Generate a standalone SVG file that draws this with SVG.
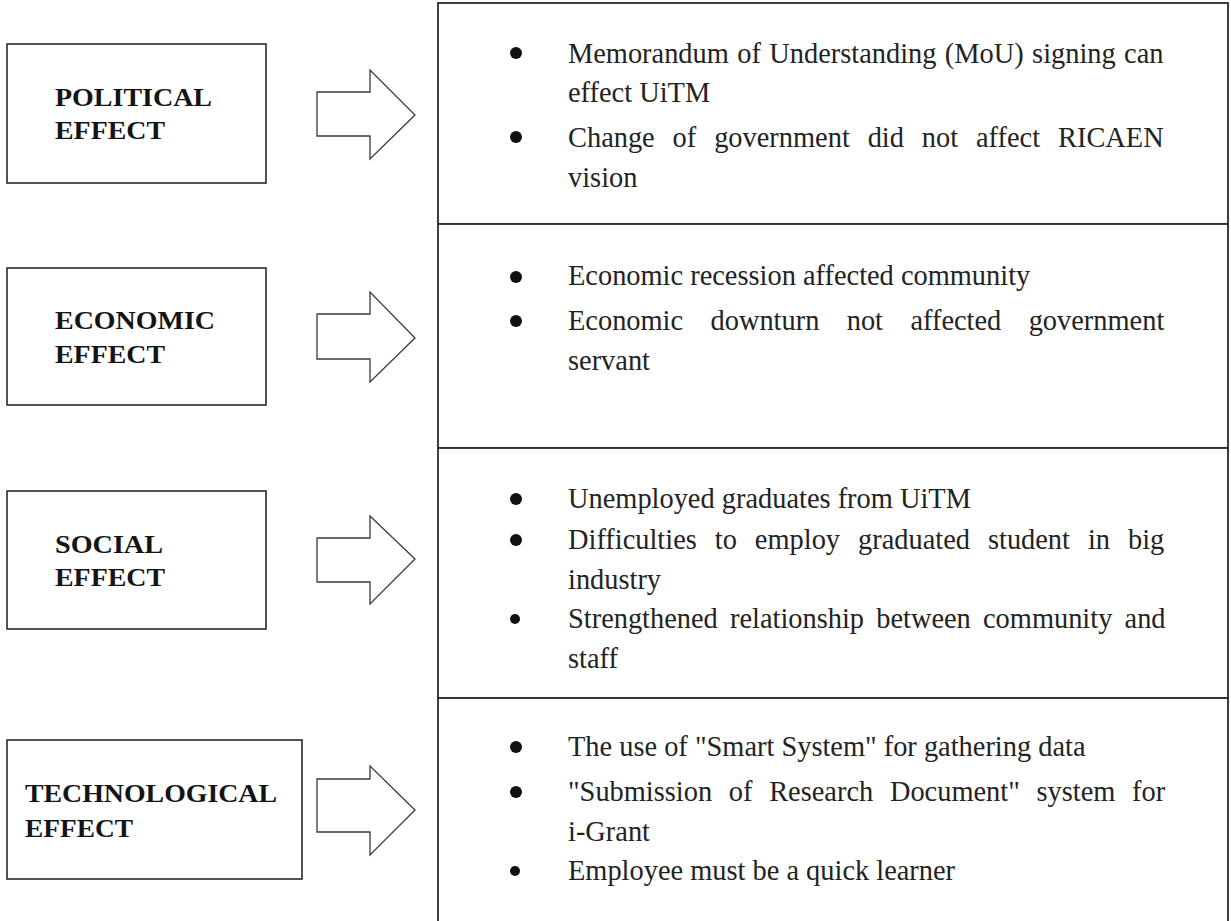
<svg xmlns="http://www.w3.org/2000/svg" width="1231" height="921" viewBox="0 0 1231 921">
  <style>
    .box { fill: #ffffff; stroke: #2a2a2a; stroke-width: 1.6; }
    .sec { fill: #ffffff; stroke: #2a2a2a; stroke-width: 1.8; }
    .title { font-family: "Liberation Serif", "Times New Roman", serif; font-weight: bold; font-size: 25px; fill: #141414; }
    .item { font-family: "Liberation Serif", "Times New Roman", serif; font-size: 28.4px; fill: #232323; }
    .bul { fill: #111111; }
    .arrow { fill: #ffffff; stroke: #3a3a3a; stroke-width: 1.3; stroke-linejoin: miter; }
  </style>
  <rect width="1231" height="921" fill="#ffffff"/>

  <!-- Left nodes -->
  <g id="political">
    <rect class="box" x="7" y="44" width="259" height="139"/>
    <text class="title" x="55" y="106" textLength="157" lengthAdjust="spacingAndGlyphs">POLITICAL</text>
    <text class="title" x="55" y="139" textLength="110" lengthAdjust="spacingAndGlyphs">EFFECT</text>
  </g>
  <g id="economic">
    <rect class="box" x="7" y="268" width="259" height="137"/>
    <text class="title" x="55" y="329" textLength="160" lengthAdjust="spacingAndGlyphs">ECONOMIC</text>
    <text class="title" x="55" y="363" textLength="110" lengthAdjust="spacingAndGlyphs">EFFECT</text>
  </g>
  <g id="social">
    <rect class="box" x="7" y="491" width="259" height="138"/>
    <text class="title" x="55" y="553" textLength="108" lengthAdjust="spacingAndGlyphs">SOCIAL</text>
    <text class="title" x="55" y="586" textLength="110" lengthAdjust="spacingAndGlyphs">EFFECT</text>
  </g>
  <g id="technological">
    <rect class="box" x="7" y="740" width="295" height="139"/>
    <text class="title" x="25" y="802" textLength="252" lengthAdjust="spacingAndGlyphs">TECHNOLOGICAL</text>
    <text class="title" x="25" y="837" textLength="108" lengthAdjust="spacingAndGlyphs">EFFECT</text>
  </g>

  <!-- Right sections -->
  <g id="political-effects">
    <rect class="sec" x="438" y="3" width="790" height="221"/>
    <circle class="bul" cx="516" cy="53" r="6"/>
    <text class="item" x="568" y="63" word-spacing="1.3">Memorandum of Understanding (MoU) signing can</text>
    <text class="item" x="568" y="102">effect UiTM</text>
    <circle class="bul" cx="516" cy="137" r="6"/>
    <text class="item" x="568" y="147" word-spacing="10.8">Change of government did not affect RICAEN</text>
    <text class="item" x="568" y="187">vision</text>
  </g>
  <g id="economic-effects">
    <rect class="sec" x="438" y="224" width="790" height="224"/>
    <circle class="bul" cx="516" cy="277" r="6"/>
    <text class="item" x="568" y="285">Economic recession affected community</text>
    <circle class="bul" cx="516" cy="321" r="6"/>
    <text class="item" x="568" y="330" word-spacing="20.3">Economic downturn not affected government</text>
    <text class="item" x="568" y="370">servant</text>
  </g>
  <g id="social-effects">
    <rect class="sec" x="438" y="448" width="790" height="250"/>
    <circle class="bul" cx="516" cy="499" r="6"/>
    <text class="item" x="568" y="508">Unemployed graduates from UiTM</text>
    <circle class="bul" cx="516" cy="540" r="6"/>
    <text class="item" x="568" y="549" word-spacing="10.9">Difficulties to employ graduated student in big</text>
    <text class="item" x="568" y="589">industry</text>
    <circle class="bul" cx="515" cy="619" r="5"/>
    <text class="item" x="568" y="628" word-spacing="5.1">Strengthened relationship between community and</text>
    <text class="item" x="568" y="668">staff</text>
  </g>
  <g id="technological-effects">
    <rect class="sec" x="438" y="698" width="790" height="235"/>
    <circle class="bul" cx="516" cy="747" r="6"/>
    <text class="item" x="568" y="756">The use of "Smart System" for gathering data</text>
    <circle class="bul" cx="516" cy="792" r="6"/>
    <text class="item" x="568" y="801" word-spacing="9.6">"Submission of Research Document" system for</text>
    <text class="item" x="568" y="841">i-Grant</text>
    <circle class="bul" cx="515" cy="871" r="5"/>
    <text class="item" x="568" y="880">Employee must be a quick learner</text>
  </g>

  <!-- Connectors -->
  <g id="connectors">
    <polygon class="arrow" points="317,92 370,92 370,70 415,115 370,159 370,136 317,136"/>
    <polygon class="arrow" points="317,314 370,314 370,292 415,338 370,382 370,359 317,359"/>
    <polygon class="arrow" points="317,538 370,538 370,516 415,559 370,604 370,582 317,582"/>
    <polygon class="arrow" points="317,779 370,779 370,766 415,810 370,855 370,832 317,832"/>
  </g>
</svg>
